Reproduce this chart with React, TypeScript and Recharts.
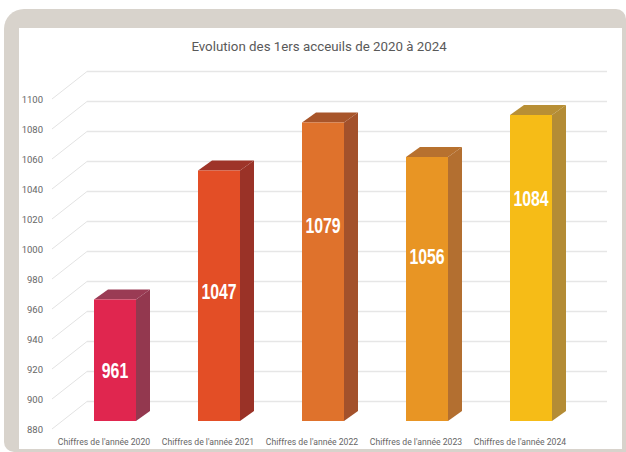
import { Bar, BarChart, CartesianGrid, LabelList, XAxis, YAxis } from "recharts";

const CATEGORIES = [
  "Chiffres de l'année 2020",
  "Chiffres de l'année 2021",
  "Chiffres de l'année 2022",
  "Chiffres de l'année 2023",
  "Chiffres de l'année 2024",
];
const VALUES = [961, 1047, 1079, 1056, 1084];
const Y_TICKS = [880, 900, 920, 940, 960, 980, 1000, 1020, 1040, 1060, 1080, 1100];

const FRONT_COLORS = ["#e0264f", "#e34e26", "#df722c", "#e89524", "#f6bc17"];
const SIDE_COLORS = ["#93384f", "#9a3227", "#a3512b", "#b36f30", "#b48c35"];
const TOP_COLORS = ["#9a3b54", "#9e3429", "#a8552a", "#b7712f", "#b88f35"];
// hand placed labels in the source, distance from the top of the bar
const LABEL_OFFSETS = [71, 121, 103, 100, 84];

const data = CATEGORIES.map((name, i) => ({ name, value: VALUES[i] }));

const WALL_LEFT = 87;
// the bars stand in front of the back wall, axis text sits further in front
const BAR_DX = -24;
const BAR_DY = 19.5;
const AXIS_DX = -35;
const AXIS_DY = 27.5;
const DEPTH_X = 14;
const DEPTH_Y = 10;
const TEXT = "Roboto, sans-serif";

function Bar3D(props: any) {
  const { x, y, width, height, index } = props;
  const l = x + BAR_DX;
  const t = y + BAR_DY;
  const r = l + width;
  const b = t + height;
  return (
    <g>
      <polygon
        points={`${l},${t} ${l + DEPTH_X},${t - DEPTH_Y} ${r + DEPTH_X},${t - DEPTH_Y} ${r},${t}`}
        fill={TOP_COLORS[index]}
      />
      <polygon
        points={`${r},${t} ${r + DEPTH_X},${t - DEPTH_Y} ${r + DEPTH_X},${b - DEPTH_Y} ${r},${b}`}
        fill={SIDE_COLORS[index]}
      />
      <rect x={l} y={t} width={width} height={height} fill={FRONT_COLORS[index]} />
    </g>
  );
}

function ValueLabel(props: any) {
  const { x, y, width, index, value } = props;
  const cx = x + BAR_DX + width / 2;
  const cy = y + BAR_DY + LABEL_OFFSETS[index];
  // no condensed face installed, so squeeze the bold one
  return (
    <g transform={`translate(${cx},${cy}) scale(0.72,1)`}>
      <text
        textAnchor="middle"
        dominantBaseline="central"
        fill="#fff"
        fontSize={22}
        fontWeight={700}
        fontFamily="'Liberation Sans', sans-serif"
      >
        {value}
      </text>
    </g>
  );
}

function SideTick(props: any) {
  const { y, payload } = props;
  return (
    <g>
      <line x1={52} y1={y + AXIS_DY} x2={WALL_LEFT} y2={y} stroke="#e3e3e3" strokeWidth={1} />
      <text
        x={43}
        y={y + AXIS_DY}
        textAnchor="end"
        dominantBaseline="central"
        fill="#666"
        fontSize={9.5}
        fontFamily={TEXT}
      >
        {payload.value}
      </text>
    </g>
  );
}

function CategoryTick(props: any) {
  const { x, payload } = props;
  return (
    <text
      x={x + AXIS_DX}
      y={441.5}
      textAnchor="middle"
      dominantBaseline="central"
      fill="#666"
      fontSize={8.65}
      fontFamily={TEXT}
    >
      {payload.value}
    </text>
  );
}

export default function App() {
  return (
    <div
      style={{
        position: "absolute",
        left: 0,
        top: 0,
        width: 626,
        height: 452,
        background: "#fff",
        overflow: "hidden",
      }}
    >
      <div
        style={{
          position: "absolute",
          left: 4,
          top: 9,
          width: 622,
          height: 443,
          background: "#d8d3cc",
          borderRadius: "20px 10px 0 10px",
        }}
      />
      <div style={{ position: "absolute", left: 19, top: 28, width: 603, height: 421, background: "#fff" }} />
      <div
        style={{
          position: "absolute",
          left: 0,
          top: 37,
          width: 638,
          textAlign: "center",
          color: "#595959",
          fontSize: 13.3,
          lineHeight: "20px",
          fontFamily: TEXT,
        }}
      >
        Evolution des 1ers acceuils de 2020 à 2024
      </div>
      <div style={{ position: "absolute", left: 0, top: 0 }}>
        <BarChart
          width={626}
          height={452}
          data={data}
          margin={{ top: 71.5, right: 19, bottom: 0, left: 0 }}
          barSize={42}
        >
          <CartesianGrid vertical={false} stroke="#e6e6e6" strokeWidth={1.5} />
          <XAxis
            dataKey="name"
            axisLine={false}
            tickLine={false}
            height={50.5}
            interval={0}
            tick={<CategoryTick />}
          />
          <YAxis
            domain={[880, 1100]}
            ticks={Y_TICKS}
            interval={0}
            axisLine={false}
            tickLine={false}
            width={WALL_LEFT}
            tick={<SideTick />}
          />
          <Bar dataKey="value" shape={<Bar3D />} isAnimationActive={false}>
            <LabelList dataKey="value" content={<ValueLabel />} />
          </Bar>
        </BarChart>
      </div>
    </div>
  );
}
